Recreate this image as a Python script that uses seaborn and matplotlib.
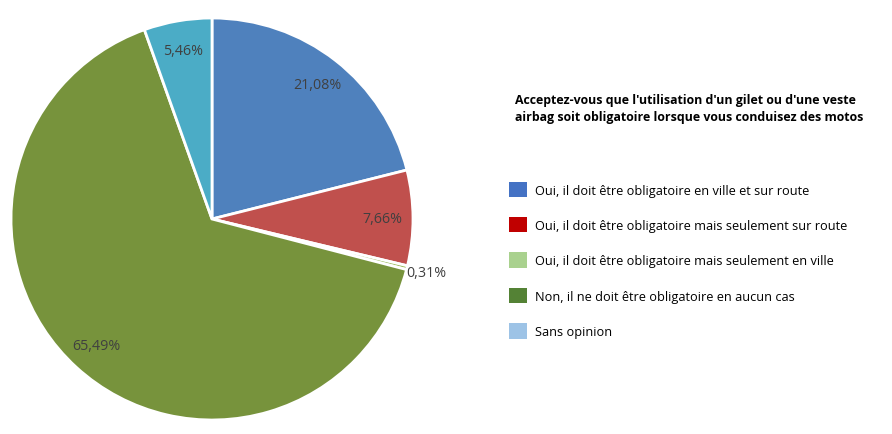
import numpy as np
import matplotlib
matplotlib.use("Agg")
import matplotlib.pyplot as plt
from matplotlib.patches import Patch
import seaborn as sns

categories = [
    "Oui, il doit être obligatoire en ville et sur route",
    "Oui, il doit être obligatoire mais seulement sur route",
    "Oui, il doit être obligatoire mais seulement en ville",
    "Non, il ne doit être obligatoire en aucun cas",
    "Sans opinion",
]
values = [21.08, 7.66, 0.31, 65.49, 5.46]
value_labels = ["21,08%", "7,66%", "0,31%", "65,49%", "5,46%"]
pie_colors = ["#4F81BD", "#C0504D", "#9BBB59", "#77933C", "#4BACC6"]
legend_colors = ["#4472C4", "#C00000", "#A9D18E", "#548235", "#9DC3E6"]
title = ("Acceptez-vous que l'utilisation d'un gilet ou d'une veste\n"
         "airbag soit obligatoire lorsque vous conduisez des motos")

sns.set_theme(style="white")
plt.rcParams['font.family'] = ['Open Sans', 'DejaVu Sans']

W, H = 892, 435
fig = plt.figure(figsize=(W / 100, H / 100), dpi=100)
cx, cy, r = 212, 220, 201
ax = fig.add_axes([(cx - r) / W, (H - cy - r) / H, 2 * r / W, 2 * r / H])

wedges, _ = ax.pie(values, colors=pie_colors, startangle=90, counterclock=False,
                   wedgeprops=dict(edgecolor="white", linewidth=2))
ax.set_aspect("equal")
ax.set_xlim(-1, 1)
ax.set_ylim(-1, 1)

for w, lab, v in zip(wedges, value_labels, values):
    ang = np.deg2rad((w.theta1 + w.theta2) / 2)
    d = 1.1 if v < 1 else 0.85
    x, y = d * np.cos(ang), d * np.sin(ang)
    ax.text(x, y, lab, ha="center", va="center", fontsize=10.3, color="#404040")

fig.text(515 / W, 1 - 94 / H, title, ha="left", va="top", fontsize=8.9,
         fontweight="bold", color="black", linespacing=1.45)

handles = [Patch(facecolor=c, edgecolor="none") for c in legend_colors]
fig.legend(handles, categories, loc="upper left", bbox_to_anchor=(497 / W, 1 - 171 / H),
           frameon=False, fontsize=9.2, handlelength=1.45, handleheight=1.5,
           labelspacing=1.55, handletextpad=0.6, labelcolor="black")

fig.savefig("out.png", dpi=100, facecolor="white")
